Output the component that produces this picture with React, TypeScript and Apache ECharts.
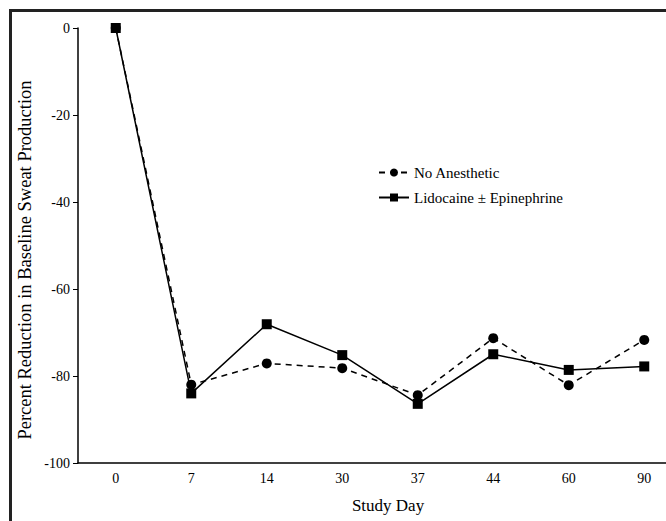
import React, { useEffect, useRef } from "react";
import * as echarts from "echarts";

const days = ["0", "7", "14", "30", "37", "44", "60", "90"];
const noAnesthetic = [0, -82, -77.1, -78.2, -84.4, -71.3, -82.1, -71.7];
const lidocaine = [0, -84, -68.1, -75.2, -86.4, -75.0, -78.6, -77.8];
const seriesNames = ["No Anesthetic", "Lidocaine \u00b1 Epinephrine"];
const xTitle = "Study Day";
const yTitle = "Percent Reduction in Baseline Sweat Production";

const FONT = "Liberation Serif";

export default function App() {
  const ref = useRef<HTMLDivElement>(null);
  useEffect(() => {
    const chart = echarts.init(ref.current!, null, { renderer: "svg" });
    chart.setOption({
      animation: false,
      backgroundColor: "#fff",
      textStyle: { fontFamily: FONT },
      graphic: [
        {
          type: "rect",
          shape: { x: 10.5, y: 10.5, width: 800, height: 700 },
          style: { fill: "none", stroke: "#222", lineWidth: 3 },
          silent: true,
        },
        {
          type: "text",
          x: 25,
          y: 260,
          rotation: Math.PI / 2,
          style: {
            text: yTitle,
            font: `18.5px ${FONT}`,
            fill: "#000",
            align: "center",
            verticalAlign: "middle",
          },
          silent: true,
        },
        {
          type: "text",
          x: 388,
          y: 505,
          style: {
            text: xTitle,
            font: `17px ${FONT}`,
            fill: "#000",
            align: "center",
            verticalAlign: "middle",
          },
          silent: true,
        },
      ],
      legend: {
        orient: "vertical",
        left: 378,
        top: 165,
        padding: 0,
        itemWidth: 30,
        itemHeight: 10,
        itemGap: 10,
        textStyle: { fontFamily: FONT, fontSize: 15, color: "#000" },
        data: seriesNames,
      },
      grid: { left: 78, top: 28, width: 604, height: 435, outerBoundsMode: "none", containLabel: false },
      xAxis: {
        type: "category",
        data: days,
        boundaryGap: true,
        axisLine: { onZero: false, lineStyle: { color: "#000", width: 1.5 } },
        axisTick: { alignWithLabel: true, length: 5, lineStyle: { color: "#000" } },
        axisLabel: { fontFamily: FONT, fontSize: 14, color: "#000", margin: 8 },
        splitLine: { show: false },
      },
      yAxis: {
        type: "value",
        min: -100,
        max: 0,
        interval: 20,
        axisLine: { show: true, lineStyle: { color: "#000", width: 1.5 } },
        axisTick: { show: true, length: 5, lineStyle: { color: "#000" } },
        axisLabel: { fontFamily: FONT, fontSize: 14, color: "#000", margin: 8 },
        splitLine: { show: false },
      },
      series: [
        {
          name: seriesNames[0],
          type: "line",
          data: noAnesthetic,
          symbol: "circle",
          symbolSize: 10,
          itemStyle: { color: "#000" },
          lineStyle: { color: "#000", width: 1.5, type: [6, 5] },
          z: 3,
        },
        {
          name: seriesNames[1],
          type: "line",
          data: lidocaine,
          symbol: "rect",
          symbolSize: 10,
          itemStyle: { color: "#000" },
          lineStyle: { color: "#000", width: 1.5, type: "solid" },
          z: 2,
        },
      ],
    });
    return () => chart.dispose();
  }, []);
  return (
    <div
      ref={ref}
      style={{ position: "fixed", left: 0, top: 0, width: 666, height: 521 }}
    />
  );
}
